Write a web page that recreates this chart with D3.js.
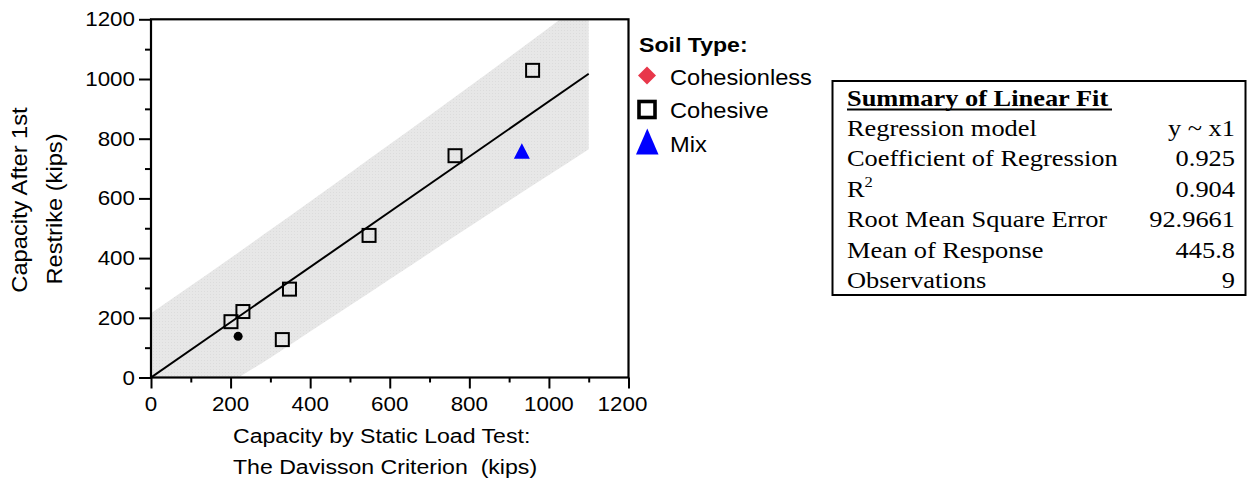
<!DOCTYPE html>
<html><head><meta charset="utf-8">
<script src="https://cdn.jsdelivr.net/npm/d3@7"></script>
<style>
html,body{margin:0;padding:0;background:#fff;}
svg{display:block;}
text{white-space:pre;}
.sans{font-family:"Liberation Sans",Arial,sans-serif;}
.serif{font-family:"Liberation Serif","Times New Roman",serif;}
</style></head>
<body>
<svg id="c" width="1250" height="495"></svg>
<script>
// ---- data ----
const xTicks = [0, 200, 400, 600, 800, 1000, 1200];
const yTicks = [0, 200, 400, 600, 800, 1000, 1200];
const minorTicks = [100, 300, 500, 700, 900, 1100];

const cohesiveX = [201, 231, 330, 348, 548, 764, 959];
const cohesiveY = [187, 221, 127, 296, 476, 743, 1029];
const mixX = [932];
const mixY = [755];
const otherX = [219];
const otherY = [138];
const cohesionlessX = [];
const cohesionlessY = [];

const fitX = [0, 1100];
const fitY = [0, 1017.5];

const bandX     = [0,    100,  200,  300,  400,  500,  600,  700,  800,  900,  1000, 1100];
const bandUpper = [215,  307,  400,  495,  590,  685,  781,  878,  975,  1073, 1172, 1270];
const bandLower = [-215, -122, -18,  66,   154,  241,  329,  417,  505,  592,  678,  765];

const legendTitle = "Soil Type:";
const legendLabels = ["Cohesionless", "Cohesive", "Mix"];

const tableTitle = "Summary of Linear Fit";
const tableLabels = ["Regression model", "Coefficient of Regression", "R2", "Root Mean Square Error", "Mean of Response", "Observations"];
const tableValues = ["y ~ x1", "0.925", "0.904", "92.9661", "445.8", "9"];

const xTitle = ["Capacity by Static Load Test:", "The Davisson Criterion  (kips)"];
const yTitle = ["Capacity After 1st", "Restrike (kips)"];

// ---- layout ----
const svg = d3.select("#c");
const L = 151, R = 628.5, T = 19.3, B = 377.5;
const x = d3.scaleLinear().domain([0, 1200]).range([L, R]);
const y = d3.scaleLinear().domain([0, 1200]).range([B, T]);

function txt(g, s, px, py, cls, size, sx, anchor, rot, weight) {
  const t = g.append("text")
    .attr("class", cls)
    .attr("transform", `translate(${px},${py})` + (rot ? ` rotate(${rot})` : "") + ` scale(${sx},1)`)
    .attr("font-size", size)
    .attr("text-anchor", anchor || "start")
    .attr("fill", "#000")
    .text(s);
  if (weight) t.attr("font-weight", weight);
  return t;
}

// clip
svg.append("clipPath").attr("id", "plotclip")
  .append("rect").attr("x", L).attr("y", T).attr("width", R - L).attr("height", B - T);

// pattern for band
const defs = svg.append("defs");
const pat = defs.append("pattern").attr("id", "bandpat").attr("width", 3).attr("height", 3)
  .attr("patternUnits", "userSpaceOnUse");
pat.append("rect").attr("width", 3).attr("height", 3).attr("fill", "#e7e7e7");
pat.append("rect").attr("width", 1).attr("height", 1).attr("fill", "#dcdcdc");

const plot = svg.append("g").attr("clip-path", "url(#plotclip)");

const bandData = bandX.map((d, i) => ({x: d, u: bandUpper[i], l: bandLower[i]}));
plot.append("path")
  .datum(bandData)
  .attr("d", d3.area().x(d => x(d.x)).y0(d => y(d.l)).y1(d => y(d.u)).curve(d3.curveMonotoneX))
  .attr("fill", "url(#bandpat)");

plot.append("path")
  .datum(fitX.map((d, i) => [d, fitY[i]]))
  .attr("d", d3.line().x(d => x(d[0])).y(d => y(d[1])))
  .attr("stroke", "#000").attr("stroke-width", 2).attr("fill", "none");

// points
const sq = 13;
svg.append("g").selectAll("rect").data(cohesiveX.map((d, i) => [d, cohesiveY[i]])).join("rect")
  .attr("x", d => x(d[0]) - sq / 2).attr("y", d => y(d[1]) - sq / 2)
  .attr("width", sq).attr("height", sq)
  .attr("fill", "none").attr("stroke", "#000").attr("stroke-width", 2);

svg.append("g").selectAll("path").data(mixX.map((d, i) => [d, mixY[i]])).join("path")
  .attr("d", d => {
    const cx = x(d[0]), cy = y(d[1]);
    return `M${cx},${cy - 9}L${cx + 8},${cy + 6.5}L${cx - 8},${cy + 6.5}Z`;
  })
  .attr("fill", "#0000ff");

svg.append("g").selectAll("circle").data(otherX.map((d, i) => [d, otherY[i]])).join("circle")
  .attr("cx", d => x(d[0])).attr("cy", d => y(d[1])).attr("r", 4.5).attr("fill", "#000");

const diamondPath = s => `M0,${-s}L${s},0L0,${s}L${-s},0Z`;
svg.append("g").selectAll("path").data(cohesionlessX.map((d, i) => [d, cohesionlessY[i]])).join("path")
  .attr("d", diamondPath(7))
  .attr("transform", d => `translate(${x(d[0])},${y(d[1])})`)
  .attr("fill", "#e8374a");

// axes
const xAxis = svg.append("g").attr("transform", `translate(0,${B})`)
  .call(d3.axisBottom(x).tickValues(xTicks).tickSize(11).tickFormat(""));
const xMinor = svg.append("g").attr("transform", `translate(0,${B})`)
  .call(d3.axisBottom(x).tickValues(minorTicks).tickSize(5).tickFormat(""));
const yAxis = svg.append("g").attr("transform", `translate(${L},0)`)
  .call(d3.axisLeft(y).tickValues(yTicks).tickSize(12).tickFormat(""));
const yMinor = svg.append("g").attr("transform", `translate(${L},0)`)
  .call(d3.axisLeft(y).tickValues(minorTicks).tickSize(6).tickFormat(""));
[xAxis, xMinor, yAxis, yMinor].forEach(g => {
  g.selectAll("line").attr("stroke", "#000").attr("stroke-width", 2);
  g.select(".domain").remove();
});

// frame
svg.append("rect").attr("x", L).attr("y", T).attr("width", R - L).attr("height", B - T)
  .attr("fill", "none").attr("stroke", "#000").attr("stroke-width", 2.2);

// tick labels
const tg = svg.append("g");
xTicks.forEach((v, i) => txt(tg, String(v), x(v) - (i === xTicks.length - 1 ? 6 : 0), 411, "sans", 20, 1.12, "middle"));
yTicks.forEach(v => txt(tg, String(v), 135, y(v) + 7, "sans", 20, 1.12, "end"));

// axis titles
const at = svg.append("g");
txt(at, xTitle[0], 233, 443, "sans", 21, 1.1, "start");
txt(at, xTitle[1], 233, 474, "sans", 21, 1.1, "start");
txt(at, yTitle[0], 27, 200, "sans", 21.5, 1.1, "middle", -90);
txt(at, yTitle[1], 62, 209, "sans", 21.5, 1.1, "middle", -90);

// legend
const lg = svg.append("g");
txt(lg, legendTitle, 639, 52, "sans", 21, 1.1, "start", 0, "bold");
txt(lg, legendLabels[0], 670, 85, "sans", 21.5, 1.1, "start");
txt(lg, legendLabels[1], 670, 118, "sans", 21.5, 1.1, "start");
txt(lg, legendLabels[2], 670, 152, "sans", 21.5, 1.1, "start");
lg.append("path").attr("d", diamondPath(9)).attr("transform", "translate(647,75.5)").attr("fill", "#e8374a");
lg.append("rect").attr("x", 639).attr("y", 101.5).attr("width", 16).attr("height", 16)
  .attr("fill", "none").attr("stroke", "#000").attr("stroke-width", 3.6);
lg.append("path").attr("d", "M647.3,128.5L658.5,154.5L636,154.5Z").attr("fill", "#0000ff");

// summary table
const tb = svg.append("g");
tb.append("rect").attr("x", 832.5).attr("y", 81).attr("width", 413).attr("height", 214)
  .attr("fill", "#fff").attr("stroke", "#000").attr("stroke-width", 2);
txt(tb, tableTitle, 847, 106, "serif", 24, 1.1, "start", 0, "bold");
tb.append("line").attr("x1", 847).attr("x2", 1112).attr("y1", 109.5).attr("y2", 109.5)
  .attr("stroke", "#000").attr("stroke-width", 2);
tableLabels.forEach((lab, i) => {
  const yy = 136 + i * 30.4;
  if (lab === "R2") {
    const t = txt(tb, "R", 847, yy, "serif", 24, 1.1, "start");
    t.append("tspan").attr("font-size", 15).attr("dy", -10).text("2");
  } else {
    txt(tb, lab, 847, yy, "serif", 24, 1.1, "start");
  }
  txt(tb, tableValues[i], 1235, yy, "serif", 24, 1.1, "end");
});
</script>
</body></html>
